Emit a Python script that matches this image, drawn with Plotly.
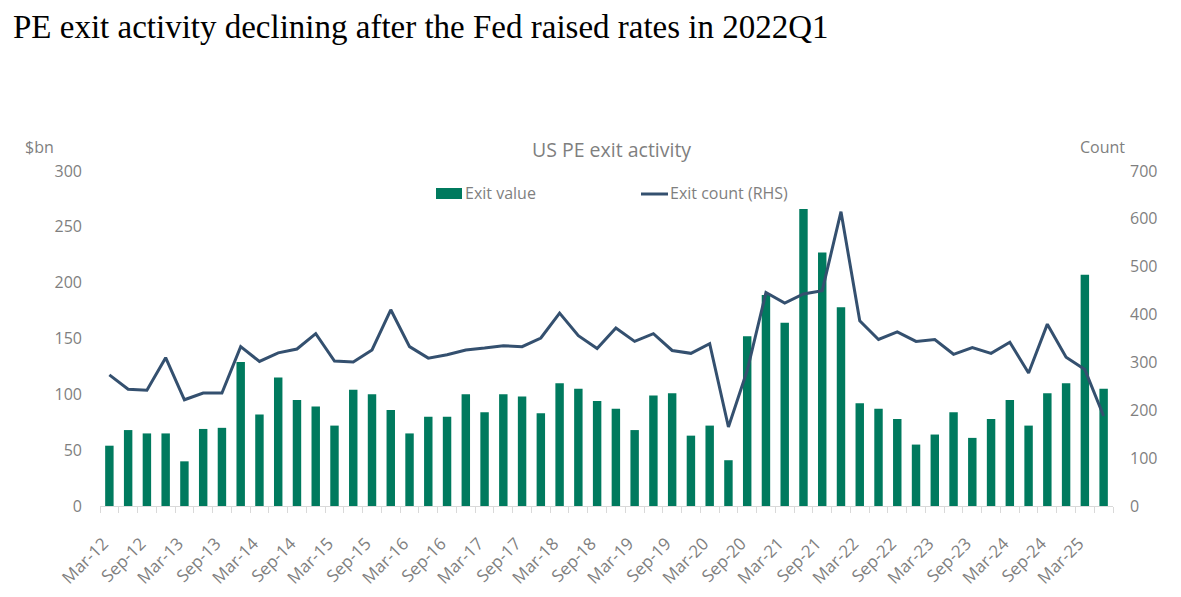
import plotly.graph_objects as go

quarters = []
for yr in range(12, 26):
    for m in ["Mar", "Jun", "Sep", "Dec"]:
        quarters.append(f"{m}-{yr}")
quarters = quarters[:54]  # Mar-12 .. Jun-25

exit_value = [54, 68, 65, 65, 40, 69, 70, 129, 82, 115, 95, 89, 72, 104, 100, 86,
              65, 80, 80, 100, 84, 100, 98, 83, 110, 105, 94, 87, 68, 99, 101, 63,
              72, 41, 152, 189, 164, 266, 227, 178, 92, 87, 78, 55, 64, 84, 61, 78,
              95, 72, 101, 110, 207, 105]

exit_count = [274, 244, 242, 310, 222, 236, 236, 333, 302, 320, 328, 360, 303, 301, 326, 410,
              333, 309, 316, 326, 330, 335, 333, 351, 403, 356, 329, 372, 344, 360, 325, 319,
              339, 165, 283, 446, 424, 443, 450, 615, 387, 348, 364, 344, 348, 317, 331, 319,
              342, 278, 380, 311, 285, 188]

x_idx = list(range(len(quarters)))
label_idx = [i for i in x_idx if i % 2 == 0]
label_txt = [quarters[i] for i in label_idx]
boundaries = [i - 0.5 for i in range(len(quarters) + 1)]

GREEN = "#007A5E"
NAVY = "#34506F"
GRAY = "#7F7F7F"
FONT = "Open Sans"

# page-pixel -> paper helpers (plot area: x 100..1113, y 171..506 on the page)
def px(x):
    return (x - 100) / 1013

def py(y):
    return (506 - y) / 335

fig = go.Figure()
fig.add_trace(go.Bar(
    x=x_idx, y=exit_value, name="Exit value",
    marker=dict(color=GREEN, line=dict(width=0)),
    width=0.45, yaxis="y",
))
fig.add_trace(go.Scatter(
    x=x_idx, y=exit_count, name="Exit count (RHS)", mode="lines",
    line=dict(color=NAVY, width=3), yaxis="y2",
))

fig.update_layout(
    width=1173, height=589,
    margin=dict(l=92, r=68, t=163, b=91, autoexpand=False),
    paper_bgcolor="white", plot_bgcolor="white",
    font=dict(family=FONT, color=GRAY, size=16),
    showlegend=False,
    xaxis=dict(
        range=[-0.5, len(quarters) - 0.5],
        tickmode="array", tickvals=label_idx, ticktext=label_txt,
        tickangle=-45, ticks="", showgrid=False, zeroline=False,
        showline=True, linecolor="#D9D9D9", linewidth=1,
        tickfont=dict(size=17, color=GRAY), ticklabelstandoff=20,
        ticklabelshift=-6,
        minor=dict(tickmode="array", tickvals=boundaries, ticks="outside",
                   ticklen=6, tickcolor="#D9D9D9", showgrid=False),
    ),
    yaxis=dict(
        range=[0, 300], tickvals=[0, 50, 100, 150, 200, 250, 300],
        showgrid=False, zeroline=False, showline=False,
        tickfont=dict(size=16, color=GRAY), ticklabelstandoff=17,
    ),
    yaxis2=dict(
        range=[0, 700], tickvals=[0, 100, 200, 300, 400, 500, 600, 700],
        overlaying="y", side="right",
        showgrid=False, zeroline=False, showline=False,
        tickfont=dict(size=16, color=GRAY), ticklabelstandoff=16,
    ),
    shapes=[
        dict(type="rect", xref="paper", yref="paper",
             x0=px(436), x1=px(462), y0=py(199), y1=py(188),
             fillcolor=GREEN, line=dict(width=0)),
        dict(type="line", xref="paper", yref="paper",
             x0=px(641), x1=px(668), y0=py(194), y1=py(194),
             line=dict(color=NAVY, width=3)),
    ],
    annotations=[
        dict(text="PE exit activity declining after the Fed raised rates in 2022Q1",
             xref="paper", yref="paper", x=px(11), y=py(27),
             xanchor="left", yanchor="middle", showarrow=False,
             font=dict(family="Liberation Serif", size=33, color="black")),
        dict(text="US PE exit activity", xref="paper", yref="paper",
             x=px(611), y=py(150), xanchor="center", yanchor="middle",
             showarrow=False, font=dict(size=19.5, color=GRAY)),
        dict(text="Exit value", xref="paper", yref="paper",
             x=px(463), y=py(193), xanchor="left", yanchor="middle",
             showarrow=False, font=dict(size=16, color=GRAY)),
        dict(text="Exit count (RHS)", xref="paper", yref="paper",
             x=px(668), y=py(193), xanchor="left", yanchor="middle",
             showarrow=False, font=dict(size=16, color=GRAY)),
        dict(text="$bn", xref="paper", yref="paper",
             x=px(23), y=py(147), xanchor="left", yanchor="middle",
             showarrow=False, font=dict(size=16, color=GRAY)),
        dict(text="Count", xref="paper", yref="paper",
             x=px(1127), y=py(147), xanchor="right", yanchor="middle",
             showarrow=False, font=dict(size=16, color=GRAY)),
    ],
)

fig.write_html("out.html")
